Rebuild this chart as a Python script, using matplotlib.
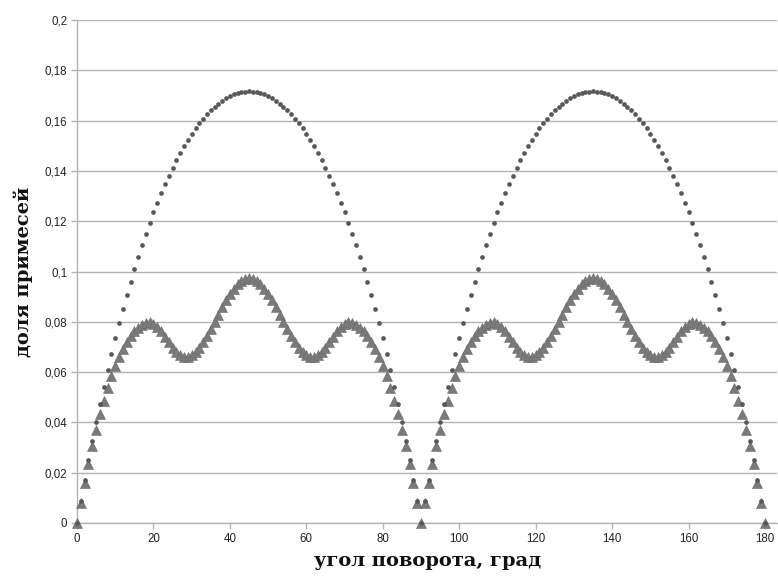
import matplotlib
matplotlib.use("Agg")
from matplotlib import pyplot as plt
from matplotlib.ticker import FuncFormatter

# rotation angle, degrees (one point per degree)
angles = list(range(0, 181))

# dots: upper arches
share_dots = [
    0, .0086, .0169, .0249, .0326, .0400, .0472, .0541, .0608, .0672,
    .0734, .0794, .0851, .0906, .0959, .1010, .1059, .1106, .1151, .1194,
    .1235, .1274, .1311, .1347, .1380, .1412, .1443, .1471, .1498, .1523,
    .1547, .1569, .1590, .1608, .1626, .1641, .1656, .1668, .1679, .1689,
    .1697, .1704, .1709, .1713, .1715, .1716, .1715, .1713, .1709, .1704,
    .1697, .1689, .1679, .1668, .1656, .1641, .1626, .1608, .1590, .1569,
    .1547, .1523, .1498, .1471, .1443, .1412, .1380, .1347, .1311, .1274,
    .1235, .1194, .1151, .1106, .1059, .1010, .0959, .0906, .0851, .0794,
    .0734, .0672, .0608, .0541, .0472, .0400, .0326, .0249, .0169, .0086,
    0,
    .0086, .0169, .0249, .0326, .0400, .0472, .0541, .0608, .0672,
    .0734, .0794, .0851, .0906, .0959, .1010, .1059, .1106, .1151, .1194,
    .1235, .1274, .1311, .1347, .1380, .1412, .1443, .1471, .1498, .1523,
    .1547, .1569, .1590, .1608, .1626, .1641, .1656, .1668, .1679, .1689,
    .1697, .1704, .1709, .1713, .1715, .1716, .1715, .1713, .1709, .1704,
    .1697, .1689, .1679, .1668, .1656, .1641, .1626, .1608, .1590, .1569,
    .1547, .1523, .1498, .1471, .1443, .1412, .1380, .1347, .1311, .1274,
    .1235, .1194, .1151, .1106, .1059, .1010, .0959, .0906, .0851, .0794,
    .0734, .0672, .0608, .0541, .0472, .0400, .0326, .0249, .0169, .0086,
    0,
]

# triangles: wavy curve
share_tri = [
    0, .0079, .0158, .0234, .0305, .0371, .0432, .0487, .0538, .0584,
    .0625, .0661, .0693, .0720, .0743, .0762, .0777, .0788, .0795, .0798,
    .0792, .0780, .0762, .0741, .0718, .0697, .0679, .0667, .0661, .0662,
    .0669, .0681, .0697, .0718, .0743, .0770, .0798, .0828, .0857, .0885,
    .0910, .0932, .0950, .0963, .0971, .0974, .0971, .0963, .0950, .0932,
    .0910, .0885, .0857, .0828, .0798, .0770, .0743, .0718, .0697, .0681,
    .0669, .0662, .0661, .0667, .0679, .0697, .0718, .0741, .0762, .0780,
    .0792, .0798, .0795, .0788, .0777, .0762, .0743, .0720, .0693, .0661,
    .0625, .0584, .0538, .0487, .0432, .0371, .0305, .0234, .0158, .0079,
    0,
    .0079, .0158, .0234, .0305, .0371, .0432, .0487, .0538, .0584,
    .0625, .0661, .0693, .0720, .0743, .0762, .0777, .0788, .0795, .0798,
    .0792, .0780, .0762, .0741, .0718, .0697, .0679, .0667, .0661, .0662,
    .0669, .0681, .0697, .0718, .0743, .0770, .0798, .0828, .0857, .0885,
    .0910, .0932, .0950, .0963, .0971, .0974, .0971, .0963, .0950, .0932,
    .0910, .0885, .0857, .0828, .0798, .0770, .0743, .0718, .0697, .0681,
    .0669, .0662, .0661, .0667, .0679, .0697, .0718, .0741, .0762, .0780,
    .0792, .0798, .0795, .0788, .0777, .0762, .0743, .0720, .0693, .0661,
    .0625, .0584, .0538, .0487, .0432, .0371, .0305, .0234, .0158, .0079,
    0,
]

x_ticks = [0, 20, 40, 60, 80, 100, 120, 140, 160, 180]
y_ticks = [0, 0.02, 0.04, 0.06, 0.08, 0.1, 0.12, 0.14, 0.16, 0.18, 0.2]

fig = plt.figure(figsize=(7.78, 5.77), dpi=100)
ax = fig.add_axes([0.099, 0.0936, 0.9, 0.8717])

grid_color = '#b3b3b3'
ax.plot(angles, share_tri, linestyle='none', marker='^', markersize=7.5,
        color='#7a7a7a', markeredgecolor='#6a6a6a', markeredgewidth=0.4,
        zorder=3, clip_on=False)
ax.plot(angles, share_dots, linestyle='none', marker='o', markersize=3.4,
        color='#585858', markeredgewidth=0, zorder=4, clip_on=False)

ax.set_xlim(0, 183.2)
ax.set_ylim(0, 0.2)
ax.set_xticks(x_ticks)
ax.set_yticks(y_ticks)
ax.yaxis.set_major_formatter(FuncFormatter(lambda v, p: ('%g' % v).replace('.', ',')))

ax.grid(axis='y', color=grid_color, linewidth=1)
ax.set_axisbelow(True)
for side in ['top', 'right']:
    ax.spines[side].set_visible(False)
for side in ['left', 'bottom']:
    ax.spines[side].set_color(grid_color)
    ax.spines[side].set_linewidth(1)

ax.tick_params(axis='both', colors=grid_color, labelcolor='#222222',
               labelsize=8.3, length=4, width=1, direction='out', pad=3)
for lbl in ax.get_xticklabels() + ax.get_yticklabels():
    lbl.set_family('Liberation Sans')

label_font = dict(family='DejaVu Serif', fontweight='bold', fontsize=14, color='#111111')
ax.set_xlabel('угол поворота, град', labelpad=5, **label_font)
ax.set_ylabel('доля примесей', labelpad=8, **label_font)

fig.savefig('out.png', dpi=100)
